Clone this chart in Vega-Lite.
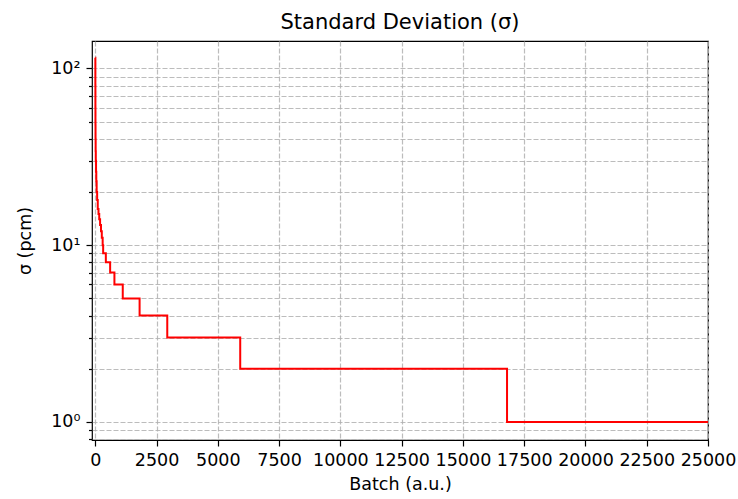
{
  "$schema": "https://vega.github.io/schema/vega-lite/v6.json",
  "width": 616,
  "height": 399,
  "autosize": {"type": "none"},
  "padding": {"left": 92, "top": 41, "right": 30, "bottom": 59},
  "background": "white",
  "config": {
    "font": "DejaVu Sans",
    "view": {"stroke": "#000000", "strokeWidth": 1.2},
    "axis": {
      "labelFont": "DejaVu Sans",
      "titleFont": "DejaVu Sans",
      "labelFontSize": 17.5,
      "titleFontSize": 17.5,
      "titleFontWeight": "normal",
      "labelColor": "#000000",
      "titleColor": "#000000",
      "tickColor": "#000000",
      "tickWidth": 1.2,
      "domain": false,
      "grid": true,
      "gridColor": "#b0b0b0",
      "gridDash": [5, 2],
      "gridWidth": 1.2,
      "gridOpacity": 0.85
    },
    "title": {"font": "DejaVu Sans", "fontSize": 21, "fontWeight": "normal", "color": "#000000"}
  },
  "title": {"text": "Standard Deviation (σ)", "anchor": "middle", "offset": 8},
  "data": {
    "values": [
      {"batch": 0, "sigma": 115},
      {"batch": 2, "sigma": 80},
      {"batch": 4, "sigma": 60},
      {"batch": 6, "sigma": 48},
      {"batch": 9, "sigma": 40},
      {"batch": 14, "sigma": 34},
      {"batch": 20, "sigma": 30},
      {"batch": 30, "sigma": 26},
      {"batch": 40, "sigma": 23},
      {"batch": 55, "sigma": 20},
      {"batch": 75, "sigma": 18},
      {"batch": 100, "sigma": 16},
      {"batch": 130, "sigma": 15},
      {"batch": 160, "sigma": 14},
      {"batch": 195, "sigma": 13},
      {"batch": 232, "sigma": 12},
      {"batch": 265, "sigma": 11},
      {"batch": 300, "sigma": 10},
      {"batch": 320, "sigma": 9},
      {"batch": 430, "sigma": 8},
      {"batch": 605, "sigma": 7},
      {"batch": 780, "sigma": 6},
      {"batch": 1120, "sigma": 5},
      {"batch": 1807, "sigma": 4},
      {"batch": 2936, "sigma": 3},
      {"batch": 5913, "sigma": 2},
      {"batch": 16800, "sigma": 1},
      {"batch": 25000, "sigma": 1}
    ]
  },
  "mark": {"type": "line", "color": "#ff0000", "strokeWidth": 2, "interpolate": "step-after", "clip": true},
  "encoding": {
    "x": {
      "field": "batch",
      "type": "quantitative",
      "scale": {"domain": [-135, 25000], "nice": false, "zero": false},
      "axis": {
        "title": "Batch (a.u.)",
        "values": [0, 2500, 5000, 7500, 10000, 12500, 15000, 17500, 20000, 22500, 25000],
        "format": "d",
        "tickSize": 6,
        "labelPadding": 5,
        "titlePadding": 7,
        "labelFlush": false
      }
    },
    "y": {
      "field": "sigma",
      "type": "quantitative",
      "scale": {"type": "log", "domain": [0.79, 143], "nice": false},
      "axis": {
        "title": "σ (pcm)",
        "values": [0.8, 0.9, 1, 2, 3, 4, 5, 6, 7, 8, 9, 10, 20, 30, 40, 50, 60, 70, 80, 90, 100],
        "labelExpr": "datum.value == 1 ? '10⁰' : datum.value == 10 ? '10¹' : datum.value == 100 ? '10²' : ''",
        "tickSize": {"condition": {"test": "datum.value == 1 || datum.value == 10 || datum.value == 100", "value": 6}, "value": 3.5},
        "labelPadding": 6,
        "titlePadding": 16,
        "labelFlush": false
      }
    }
  }
}
